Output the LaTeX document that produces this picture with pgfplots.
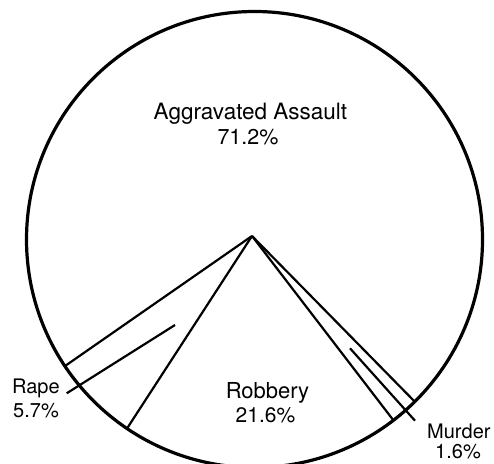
\documentclass[border=0pt]{standalone}
\usepackage{fontspec}
\setmainfont{TeX Gyre Heros}
\usepackage{pgfplots}
\pgfplotsset{compat=1.18}

\begin{document}
\begin{tikzpicture}
\begin{axis}[
    width=494pt, height=463pt,
    scale only axis,
    hide axis,
    xmin=-252, xmax=242,
    ymin=-227, ymax=236,
    clip=true,
]
% pie outline
\draw[line width=3.2pt] (axis cs:2.5,-3.5) circle [radius=228];

% wedge borders (centre to rim)
\addplot[black, line width=2.2pt] coordinates {(0,0) (-187.1,-130.1)};   % rape / assault
\addplot[black, line width=2.2pt] coordinates {(0,0) (-125.0,-192.5)};   % rape / robbery
\addplot[black, line width=2.2pt] coordinates {(0,0) (141.4,-184.3)};    % robbery / murder
\addplot[black, line width=2.2pt] coordinates {(0,0) (162.8,-165.7)};    % murder / assault

% callout lines
\addplot[black, line width=2.2pt] coordinates {(-77,-89) (-185.3,-157.3)};
\addplot[black, line width=2.2pt] coordinates {(98,-112.3) (163,-184.7)};

% labels
\node[anchor=base, font=\fontsize{22.5}{26}\selectfont] at (axis cs:-1.5,116) {Aggravated Assault};
\node[anchor=base, font=\fontsize{21.5}{26}\selectfont] at (axis cs:-4,91) {71.2\%};
\node[anchor=base, font=\fontsize{22}{26}\selectfont] at (axis cs:15.5,-162) {Robbery};
\node[anchor=base, font=\fontsize{21}{26}\selectfont] at (axis cs:13.5,-186) {21.6\%};
\node[anchor=base west, inner sep=0pt, font=\fontsize{20}{24}\selectfont] at (axis cs:-240,-157) {Rape};
\node[anchor=base west, inner sep=0pt, font=\fontsize{20}{24}\selectfont] at (axis cs:-239,-181) {5.7\%};
\node[anchor=base west, inner sep=0pt, font=\fontsize{20}{24}\selectfont] at (axis cs:175,-202) {Murder};
\node[anchor=base, inner sep=0pt, font=\fontsize{20}{24}\selectfont] at (axis cs:206,-222) {1.6\%};
\end{axis}
\pgfresetboundingbox
\path (current axis.south west) rectangle (current axis.north east);
\end{tikzpicture}
\end{document}
